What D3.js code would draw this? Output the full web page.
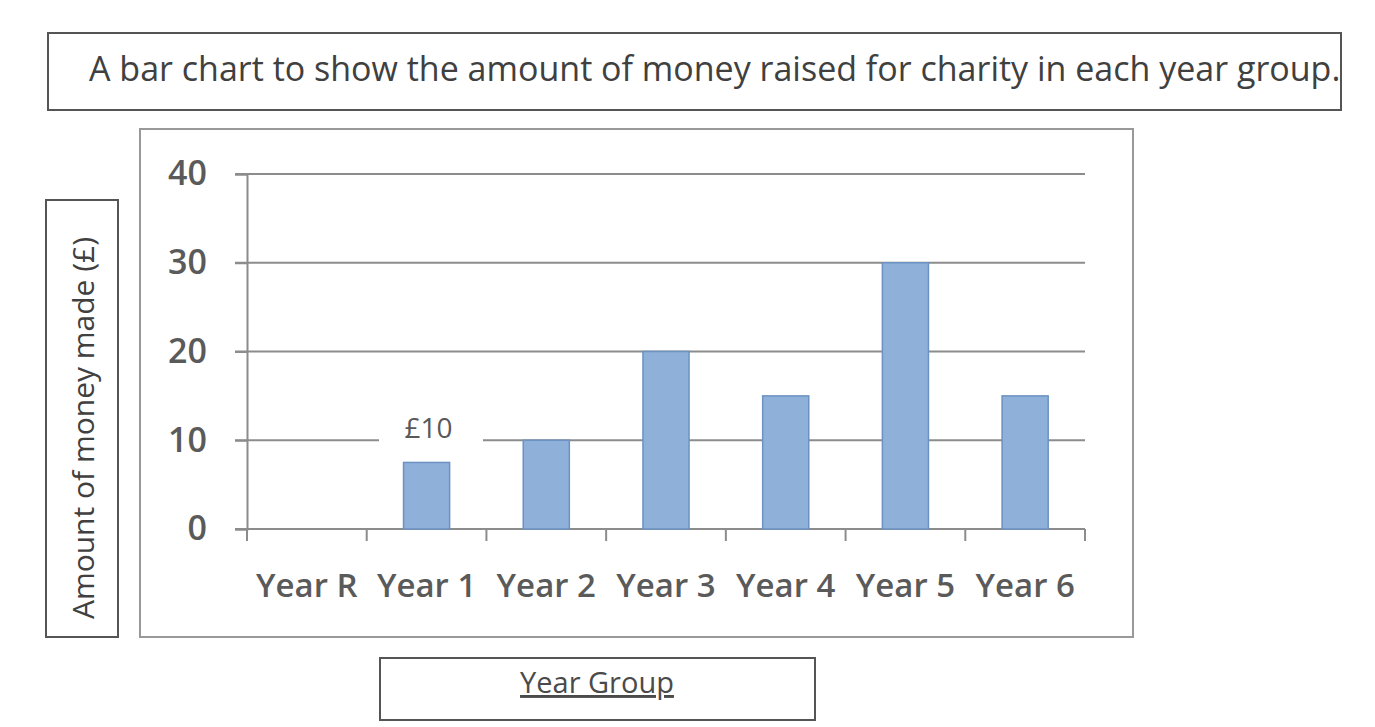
<!DOCTYPE html>
<html>
<head>
<meta charset="utf-8">
<script src="https://cdn.jsdelivr.net/npm/d3@7"></script>
<style>
  body { margin: 0; background: #fff; }
  text { font-family: "Open Sans", sans-serif; fill: #595959; }
</style>
</head>
<body>
<svg class="svg"></svg>
<script>
const categories = ['Year R', 'Year 1', 'Year 2', 'Year 3', 'Year 4', 'Year 5', 'Year 6'];
const values = [0, 7.5, 10, 20, 15, 30, 15];
const yTicks = [0, 10, 20, 30, 40];
const titleText = 'A bar chart to show the amount of money raised for charity in each year group.';
const yTitle = 'Amount of money made (£)';
const xTitle = 'Year Group';
const noteText = '£10';

const width = 1375;
const height = 727;

const svg = d3.select('.svg')
  .attr('width', width)
  .attr('height', height);

// title box
svg.append('rect')
  .attr('x', 48).attr('y', 33)
  .attr('width', 1293).attr('height', 77)
  .attr('fill', '#fff')
  .attr('stroke', '#555')
  .attr('stroke-width', 2);

svg.append('text')
  .attr('x', 89).attr('y', 81)
  .attr('font-size', 34)
  .style('fill', '#404040')
  .text(titleText);

// chart area box
svg.append('rect')
  .attr('x', 140).attr('y', 129)
  .attr('width', 993).attr('height', 508)
  .attr('fill', '#fff')
  .attr('stroke', '#999')
  .attr('stroke-width', 2);

const x = d3.scaleBand()
  .domain(categories)
  .range([247, 1085])
  .paddingInner(0.615)
  .paddingOuter(0.3075);

const y = d3.scaleLinear()
  .domain([0, 40])
  .range([529, 174]);

// gridlines
svg.append('g')
  .selectAll('line')
  .data(yTicks)
  .join('line')
  .attr('x1', 235)
  .attr('x2', 1085)
  .attr('y1', d => y(d))
  .attr('y2', d => y(d))
  .attr('stroke', '#8c8c8c')
  .attr('stroke-width', 2);

// y axis
const yAxis = svg.append('g')
  .attr('transform', 'translate(247,0)')
  .call(d3.axisLeft(y).tickValues(yTicks).tickSize(12).tickPadding(28));
yAxis.select('.domain').attr('stroke', '#8c8c8c').attr('stroke-width', 2);
yAxis.selectAll('.tick line').attr('stroke', '#8c8c8c').attr('stroke-width', 2);
yAxis.selectAll('.tick text')
  .attr('font-size', 34)
  .attr('font-weight', 600)
  .attr('font-family', '"Open Sans", sans-serif')
  .style('fill', '#5a5a5a');

// x axis: ticks at band boundaries
const bandEdges = categories.map(c => x(c) - x.step() * x.paddingInner() / 2)
  .concat([x(categories[categories.length - 1]) + x.bandwidth() + x.step() * x.paddingInner() / 2]);

svg.append('line')
  .attr('x1', 247).attr('x2', 1085)
  .attr('y1', y(0)).attr('y2', y(0))
  .attr('stroke', '#8c8c8c')
  .attr('stroke-width', 2);

svg.append('g')
  .selectAll('line')
  .data(bandEdges)
  .join('line')
  .attr('x1', d => d).attr('x2', d => d)
  .attr('y1', y(0)).attr('y2', y(0) + 12)
  .attr('stroke', '#8c8c8c')
  .attr('stroke-width', 2);

svg.append('g')
  .selectAll('text')
  .data(categories)
  .join('text')
  .attr('x', d => x(d) + x.bandwidth() / 2)
  .attr('y', 597)
  .attr('text-anchor', 'middle')
  .attr('font-size', 33)
  .attr('font-weight', 600)
  .style('fill', '#5a5a5a')
  .text(d => d);

// white backing behind the "£10" note
svg.append('rect')
  .attr('x', 379).attr('y', 405)
  .attr('width', 104).attr('height', 45)
  .attr('fill', '#fff');

// bars
svg.append('g')
  .selectAll('rect')
  .data(values.map((v, i) => ({ cat: categories[i], v })).filter(d => d.v > 0))
  .join('rect')
  .attr('x', d => x(d.cat))
  .attr('y', d => y(d.v))
  .attr('width', x.bandwidth())
  .attr('height', d => y(0) - y(d.v))
  .attr('fill', '#8fb0d9')
  .attr('stroke', '#6b92c2')
  .attr('stroke-width', 1.5);

svg.append('text')
  .attr('x', x('Year 1') + x.bandwidth() / 2 + 2)
  .attr('y', 438)
  .attr('text-anchor', 'middle')
  .attr('font-size', 28)
  .text(noteText);

// y title box
svg.append('rect')
  .attr('x', 46).attr('y', 200)
  .attr('width', 72).attr('height', 437)
  .attr('fill', '#fff')
  .attr('stroke', '#555')
  .attr('stroke-width', 2);

svg.append('text')
  .attr('transform', 'translate(94,428) rotate(-90)')
  .attr('text-anchor', 'middle')
  .attr('font-size', 30)
  .style('fill', '#404040')
  .text(yTitle);

// x title box
svg.append('rect')
  .attr('x', 380).attr('y', 658)
  .attr('width', 435).attr('height', 62)
  .attr('fill', '#fff')
  .attr('stroke', '#555')
  .attr('stroke-width', 2);

svg.append('text')
  .attr('x', 597).attr('y', 693)
  .attr('text-anchor', 'middle')
  .attr('font-size', 29)
  .attr('text-decoration', 'underline')
  .style('fill', '#4a4a4a')
  .text(xTitle);
</script>
</body>
</html>
